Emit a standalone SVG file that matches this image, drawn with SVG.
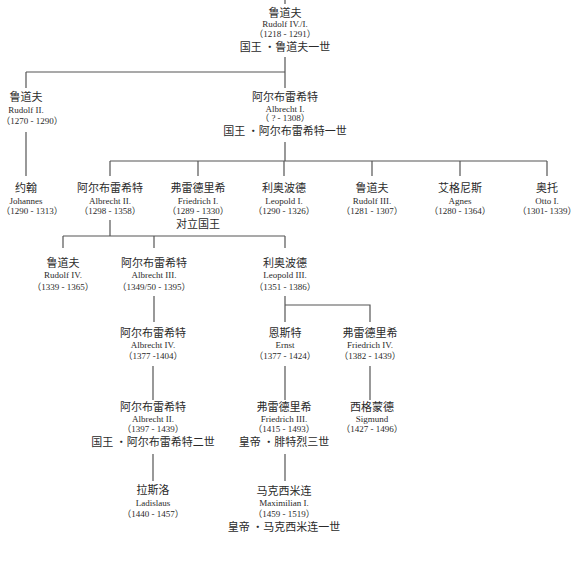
<svg xmlns="http://www.w3.org/2000/svg" width="582" height="561" viewBox="0 0 582 561">
<style>
text{text-anchor:middle;fill:#2a2a2a}
.zh{font-family:"Noto Sans CJK SC","Liberation Serif",sans-serif;font-size:11px}
.en{font-family:"Liberation Serif",serif;font-size:9px}
.dt{font-family:"Liberation Serif","Noto Sans CJK SC",serif;font-size:9px}
.ln{stroke:#555;stroke-width:1.2;fill:none}
</style>
<rect width="582" height="561" fill="#fff"/>
<g id="connectors" class="ln">
<path d="M285,0V4M285,57V72M26,72H285M26,72V88M285,72V88"/>
<path d="M26,132V176M285,142V161M110,161H547M110,161V176M198,161V176M284,161V176M372,161V176M460,161V176M547,161V176"/>
<path d="M110,220V236M63,236H285M63,236V248M154,236V248M285,236V248"/>
<path d="M154,296V322M285,296V305H370V322M285,305V322"/>
<path d="M153,366V400M285,366V400M370,366V400"/>
<path d="M153,454V481M285,454V481"/>
</g>
<g id="rudolf1"><text class="zh" x="285" y="17">鲁道夫</text><text class="en" x="285" y="27">Rudolf IV./I.</text><text class="dt" x="285" y="37">（1218 - 1291）</text><text class="zh" x="285" y="51">国王 ·鲁道夫一世</text></g>
<g id="rudolf2"><text class="zh" x="26" y="101">鲁道夫</text><text class="en" x="26" y="113">Rudolf II.</text><text class="dt" x="32" y="124">（1270 - 1290）</text></g>
<g id="albrecht1"><text class="zh" x="285" y="101">阿尔布雷希特</text><text class="en" x="285" y="112">Albrecht I.</text><text class="dt" x="285" y="121">（ ? - 1308）</text><text class="zh" x="285" y="135">国王 ·阿尔布雷希特一世</text></g>
<g id="johannes"><text class="zh" x="26" y="192">约翰</text><text class="en" x="26" y="204">Johannes</text><text class="dt" x="32" y="214">（1290 - 1313）</text></g>
<g id="albrecht2"><text class="zh" x="110" y="192">阿尔布雷希特</text><text class="en" x="110" y="204">Albrecht II.</text><text class="dt" x="110" y="214">（1298 - 1358）</text></g>
<g id="friedrich1"><text class="zh" x="198" y="192">弗雷德里希</text><text class="en" x="198" y="204">Friedrich I.</text><text class="dt" x="198" y="214">（1289 - 1330）</text><text class="zh" x="198" y="228">对立国王</text></g>
<g id="leopold1"><text class="zh" x="284" y="192">利奥波德</text><text class="en" x="284" y="204">Leopold I.</text><text class="dt" x="284" y="214">（1290 - 1326）</text></g>
<g id="rudolf3"><text class="zh" x="372" y="192">鲁道夫</text><text class="en" x="372" y="204">Rudolf III.</text><text class="dt" x="372" y="214">（1281 - 1307）</text></g>
<g id="agnes"><text class="zh" x="460" y="192">艾格尼斯</text><text class="en" x="460" y="204">Agnes</text><text class="dt" x="460" y="214">（1280 - 1364）</text></g>
<g id="otto"><text class="zh" x="547" y="192">奥托</text><text class="en" x="547" y="204">Otto I.</text><text class="dt" x="547" y="214">（1301- 1339）</text></g>
<g id="rudolf4"><text class="zh" x="63" y="267">鲁道夫</text><text class="en" x="63" y="278">Rudolf IV.</text><text class="dt" x="63" y="290">（1339 - 1365）</text></g>
<g id="albrecht3"><text class="zh" x="154" y="267">阿尔布雷希特</text><text class="en" x="154" y="278">Albrecht III.</text><text class="dt" x="154" y="290">（1349/50 - 1395）</text></g>
<g id="leopold3"><text class="zh" x="285" y="267">利奥波德</text><text class="en" x="285" y="278">Leopold III.</text><text class="dt" x="285" y="290">（1351 - 1386）</text></g>
<g id="albrecht4"><text class="zh" x="153" y="337">阿尔布雷希特</text><text class="en" x="153" y="348">Albrecht IV.</text><text class="dt" x="153" y="359">（1377 -1404）</text></g>
<g id="ernst"><text class="zh" x="285" y="337">恩斯特</text><text class="en" x="285" y="348">Ernst</text><text class="dt" x="285" y="359">（1377 - 1424）</text></g>
<g id="friedrich4"><text class="zh" x="370" y="337">弗雷德里希</text><text class="en" x="370" y="348">Friedrich IV.</text><text class="dt" x="370" y="359">（1382 - 1439）</text></g>
<g id="albrecht2b"><text class="zh" x="153" y="411">阿尔布雷希特</text><text class="en" x="153" y="422">Albrecht II.</text><text class="dt" x="153" y="432">（1397 - 1439）</text><text class="zh" x="153" y="446">国王 ·阿尔布雷希特二世</text></g>
<g id="friedrich3"><text class="zh" x="284" y="411">弗雷德里希</text><text class="en" x="284" y="422">Friedrich III.</text><text class="dt" x="284" y="432">（1415 - 1493）</text><text class="zh" x="284" y="446">皇帝 ·腓特烈三世</text></g>
<g id="sigmund"><text class="zh" x="372" y="411">西格蒙德</text><text class="en" x="372" y="422">Sigmund</text><text class="dt" x="372" y="432">（1427 - 1496）</text></g>
<g id="ladislaus"><text class="zh" x="153" y="494">拉斯洛</text><text class="en" x="153" y="506">Ladislaus</text><text class="dt" x="153" y="517">（1440 - 1457）</text></g>
<g id="maximilian"><text class="zh" x="284" y="495">马克西米连</text><text class="en" x="284" y="506">Maximilian I.</text><text class="dt" x="284" y="517">（1459 - 1519）</text><text class="zh" x="284" y="531">皇帝 ·马克西米连一世</text></g>
</svg>
